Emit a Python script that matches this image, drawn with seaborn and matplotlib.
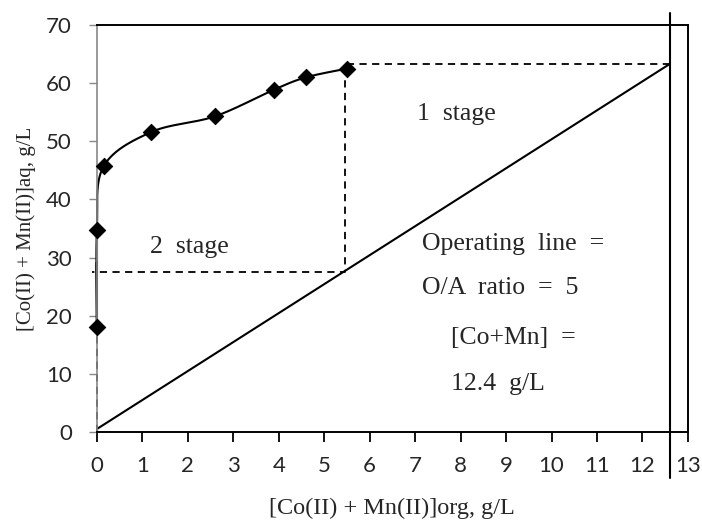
import numpy as np
import pandas as pd
import matplotlib
matplotlib.use("Agg")
import matplotlib.pyplot as plt
import seaborn as sns

# Data
org = [0.0, 0.0, 0.15, 1.2, 2.6, 3.9, 4.6, 5.5]
aq = [18.0, 34.8, 45.7, 51.6, 54.3, 58.9, 61.0, 62.5]
op_x = [0.0, 12.6]
op_y = [0.5, 63.3]
stage_x = [12.6, 5.45, 5.45, -0.1]
stage_y = [63.3, 63.3, 27.5, 27.5]
feed_x = [12.6, 12.6]
feed_y = [-8.0, 72.0]
x_ticks = list(range(0, 14))
y_ticks = list(range(0, 71, 10))

sns.set_theme(style="white")
plt.rcParams['font.family'] = ['Lato', 'DejaVu Sans']

fig = plt.figure(figsize=(7.02, 5.21), dpi=100)
ax = fig.add_axes([0.138, 0.171, 0.842, 0.781])

# smooth curve (Bezier through points, Excel-like)
P = np.column_stack([org, aq])
n = len(P)
cx, cy = [], []
t = np.linspace(0, 1, 40)
for i in range(n - 1):
    p0 = P[i - 1] if i > 0 else P[i]
    p1 = P[i]
    p2 = P[i + 1]
    p3 = P[i + 2] if i + 2 < n else P[i + 1]
    b1 = p1 + (p2 - p0) / 6.0
    b2 = p2 - (p3 - p1) / 6.0
    seg = ((1 - t) ** 3)[:, None] * p1 + (3 * (1 - t) ** 2 * t)[:, None] * b1 \
        + (3 * (1 - t) * t ** 2)[:, None] * b2 + (t ** 3)[:, None] * p2
    cx.extend(seg[:, 0]); cy.extend(seg[:, 1])
curve = pd.DataFrame({"x": cx, "y": cy})
sns.lineplot(data=curve, x="x", y="y", sort=False, color="black", lw=1.5, ax=ax, clip_on=False)

# operating line
sns.lineplot(x=op_x, y=op_y, color="black", lw=1.5, ax=ax)
# stage construction (dashed)
ax.plot(stage_x, stage_y, color="black", lw=1.3, ls=(0, (4, 3)), clip_on=False)
ax.plot([0, 0], [0, 27.5], color="black", lw=1.3, ls=(0, (4, 3)), clip_on=False)
# feed line
ax.plot(feed_x, feed_y, color="black", lw=1.5, clip_on=False)

sns.scatterplot(x=org, y=aq, marker="D", s=70, color="black", edgecolor="black",
                ax=ax, zorder=5, clip_on=False)

ax.set_xlim(0, 13)
ax.set_ylim(0, 70)
ax.set_xticks(x_ticks)
ax.set_yticks(y_ticks)
ax.tick_params(axis="x", direction="out", length=7, width=1.3, color="black", labelsize=16, pad=10)
ax.tick_params(axis="y", direction="out", length=6, width=1.0, color="#888888", labelsize=16, pad=12, left=True)
ax.tick_params(axis="x", bottom=True)
for s in ["top", "right", "bottom"]:
    ax.spines[s].set_color("black")
    ax.spines[s].set_linewidth(1.4)
ax.spines["left"].set_color("#888888")
ax.spines["left"].set_linewidth(1.2)

serif = ['Liberation Serif', 'DejaVu Serif']
ax.set_xlabel("[Co(II) + Mn(II)]org, g/L", family=serif, fontsize=17.5, labelpad=16)
ax.set_ylabel("[Co(II) + Mn(II)]aq, g/L", family=serif, fontsize=15, labelpad=7)

fs = 18.5
ax.text(7.9, 54.7, "1  stage", family=serif, fontsize=fs, ha="center", va="center")
ax.text(2.04, 31.8, "2  stage", family=serif, fontsize=fs, ha="center", va="center")
ax.text(7.14, 32.4, "Operating  line  =", family=serif, fontsize=fs, ha="left", va="center")
ax.text(7.14, 24.8, "O/A  ratio  =  5", family=serif, fontsize=fs, ha="left", va="center")
ax.text(7.78, 16.2, "[Co+Mn]  =", family=serif, fontsize=fs, ha="left", va="center")
ax.text(7.78, 8.3, "12.4  g/L", family=serif, fontsize=fs, ha="left", va="center")

fig.savefig("out.png", dpi=100)
